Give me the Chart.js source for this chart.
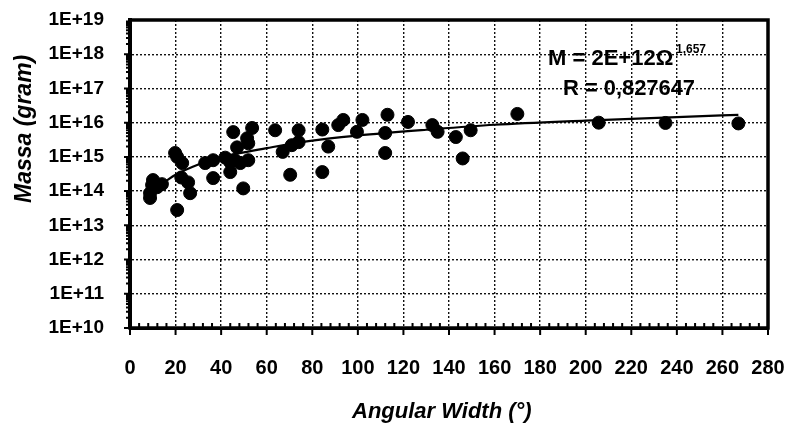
<!DOCTYPE html>
<html>
<head>
<meta charset="utf-8">
<script src="https://cdn.jsdelivr.net/npm/chart.js@4"></script>
<style>
  html, body { margin: 0; padding: 0; background: #fff; }
  canvas { display: block; }
</style>
</head>
<body>
<canvas id="plot" width="792" height="429"></canvas>
<script>
// Angular width (deg) vs mass (gram)
const widthDeg = [
  8.8, 8.8, 9.7, 10.1, 11.9, 14, 19.8, 20.7, 20.7, 22.9, 22.5, 25.5, 26.4,
  33, 36.5, 36.5, 41.8, 44, 44, 46, 48.4, 49.7, 51.9, 45.3, 47, 51.4, 51.9, 53.6,
  63.7, 67, 70.3, 71, 74, 74, 84.4, 84.4, 87, 91.4, 93.6, 99.6, 102,
  112, 112, 113, 122, 132.7, 135, 143, 146, 149.5, 170, 205.7, 235, 267
];
const massGram = [
  6.3e13, 8.7e13, 1.5e14, 2.1e14, 1.3e14, 1.6e14, 1.3e15, 2.8e13, 1.0e15, 6.6e14, 2.5e14, 1.8e14, 8.7e13,
  6.6e14, 8e14, 2.4e14, 9.5e14, 7e14, 3.6e14, 8e14, 6.6e14, 1.2e14, 8e14, 5.3e15, 1.9e15, 3.5e15, 2.5e15, 7e15,
  6e15, 1.4e15, 3e14, 2.2e15, 2.7e15, 6e15, 6.3e15, 3.6e14, 2e15, 8.5e15, 1.2e16, 5.4e15, 1.2e16,
  5e15, 1.3e15, 1.7e16, 1.05e16, 8.5e15, 5.4e15, 3.8e15, 9e14, 6e15, 1.8e16, 1e16, 9.8e15, 9.5e15
];

// trend line as drawn in the picture
const trendX = [9, 15, 20, 30, 40, 50, 60, 80, 100, 130, 160, 200, 240, 267];
const trendY = [1.0e14, 1.8e14, 3.0e14, 6.0e14, 1.0e15, 1.35e15, 1.8e15, 3.0e15, 4.2e15, 6.2e15, 8.7e15, 1.15e16, 1.45e16, 1.7e16];

const yTickValues = [1e10, 1e11, 1e12, 1e13, 1e14, 1e15, 1e16, 1e17, 1e18, 1e19];
const yTickLabels = ['1E+10', '1E+11', '1E+12', '1E+13', '1E+14', '1E+15', '1E+16', '1E+17', '1E+18', '1E+19'];

const xTitle = 'Angular Width (°)';
const yTitle = 'Massa (gram)';
const fitText = 'M = 2E+12Ω';
const fitExp = '1,657';
const rText = 'R = 0,827647';

const FONT = '"Liberation Sans", Arial, sans-serif';

function fitDraw(ctx, text, x, y, w) {
  const m = ctx.measureText(text).width;
  ctx.save();
  ctx.translate(x, y);
  if (m > w) ctx.scale(w / m, 1);
  ctx.fillText(text, 0, 0);
  ctx.restore();
}

const decor = {
  id: 'decor',
  afterDraw(chart) {
    const {ctx, chartArea: a, scales: {x, y}} = chart;
    ctx.save();
    ctx.strokeStyle = '#000';
    ctx.fillStyle = '#000';

    // tick marks on x: majors below, minors above
    ctx.lineWidth = 2;
    ctx.beginPath();
    for (let v = 0; v <= 280; v += 4) {
      const px = x.getPixelForValue(v);
      if (v % 20 === 0) { ctx.moveTo(px, a.bottom); ctx.lineTo(px, a.bottom + 7); }
      else { ctx.moveTo(px, a.bottom); ctx.lineTo(px, a.bottom - 5); }
    }
    // minor log ticks on y, to the left
    for (let e = 10; e < 19; e++) {
      for (let k = 1; k < 10; k++) {
        const py = y.getPixelForValue(k * Math.pow(10, e));
        ctx.moveTo(a.left, py); ctx.lineTo(a.left - (k === 1 ? 6 : 4), py);
      }
    }
    ctx.stroke();

    // frame
    ctx.lineWidth = 3.5;
    ctx.strokeRect(a.left, a.top, a.right - a.left, a.bottom - a.top);

    // axis titles
    ctx.font = 'italic bold 22px ' + FONT;
    ctx.textAlign = 'left';
    ctx.textBaseline = 'alphabetic';
    fitDraw(ctx, xTitle, 352, 418, 194);

    ctx.save();
    ctx.translate(31, 203);
    ctx.rotate(-Math.PI / 2);
    ctx.font = 'italic bold 23px ' + FONT;
    fitDraw(ctx, yTitle, 0, 0, 153);
    ctx.restore();

    // fit annotation
    ctx.font = 'bold 22px ' + FONT;
    fitDraw(ctx, fitText, 548, 65, 129);
    ctx.font = 'bold 12px ' + FONT;
    fitDraw(ctx, fitExp, 676, 53, 37);
    ctx.font = 'bold 22px ' + FONT;
    fitDraw(ctx, rText, 563, 95, 132);

    ctx.restore();
  }
};

new Chart(document.getElementById('plot'), {
  type: 'scatter',
  data: {
    datasets: [
      {
        label: 'CME',
        data: widthDeg.map((v, i) => ({x: v, y: massGram[i]})),
        backgroundColor: '#000',
        borderColor: '#000',
        pointRadius: 6.5,
        pointHoverRadius: 6.5
      },
      {
        label: 'Fit',
        type: 'line',
        data: trendX.map((v, i) => ({x: v, y: trendY[i]})),
        borderColor: '#000',
        borderWidth: 2.2,
        pointRadius: 0,
        cubicInterpolationMode: 'monotone',
        fill: false
      }
    ]
  },
  options: {
    responsive: false,
    animation: false,
    layout: { padding: { top: 20, right: 24, left: 0, bottom: 0 } },
    plugins: { legend: { display: false }, tooltip: { enabled: false } },
    scales: {
      x: {
        type: 'linear',
        min: 0,
        max: 280,
        afterFit: s => { s.height = 101; s.paddingLeft = 0; s.paddingRight = 0; },
        ticks: {
          stepSize: 20,
          color: '#000',
          padding: 28,
          font: { family: FONT, size: 20, weight: 'bold' }
        },
        grid: { color: '#111', lineWidth: 1.4, drawTicks: false },
        border: { display: true, color: '#000', width: 3, dash: [2, 2] }
      },
      y: {
        type: 'logarithmic',
        min: 1e10,
        max: 1e19,
        afterFit: s => { s.width = 130; s.paddingTop = 0; s.paddingBottom = 0; },
        afterBuildTicks: s => { s.ticks = yTickValues.map(v => ({value: v})); },
        ticks: {
          autoSkip: false,
          color: '#000',
          padding: 26,
          font: { family: FONT, size: 19, weight: 'bold' },
          callback: (v, i) => yTickLabels[i]
        },
        grid: { color: '#111', lineWidth: 1.4, drawTicks: false },
        border: { display: true, color: '#000', width: 4, dash: [2, 2] }
      }
    }
  },
  plugins: [decor]
});
</script>
</body>
</html>
